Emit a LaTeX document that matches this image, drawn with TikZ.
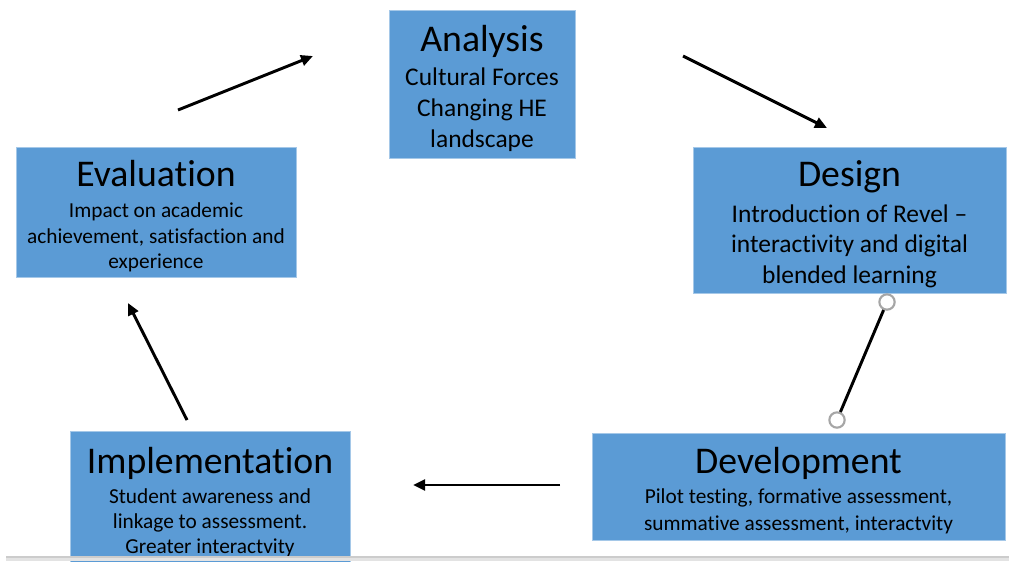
\documentclass[tikz,border=0pt]{standalone}
\usepackage{fontspec}
\setmainfont{Carlito}[Ligatures=NoCommon]
\usepackage{xcolor}
\usetikzlibrary{arrows.meta}
\definecolor{boxblue}{HTML}{5B9BD5}
\newcommand{\ttl}[1]{{\fontsize{28.3}{30}\selectfont\rule{0pt}{26pt}#1}}

\begin{document}
\begin{tikzpicture}[x=0.75pt, y=-0.75pt,
    main/.style = {fill=boxblue, draw=boxblue!55!white, line width=0.6pt, align=center, inner sep=0pt},
    big/.style = {font=\fontsize{19.1}{23}\selectfont},
    small/.style = {font=\fontsize{16}{19}\selectfont},
    flow/.style = {-{Triangle[length=9pt, width=8pt]}, line width=2.2pt},
    grip/.style = {circle, draw=gray!70, line width=1.6pt, fill=white, inner sep=0pt, minimum size=11.5pt}]
  \useasboundingbox (0,0) rectangle (1009,561);
  \begin{scope}
    \clip (0,0) rectangle (1009,561);

    \node[main, big, minimum width=139.5pt, minimum height=111pt] (n_1) at (482,84)
      {\ttl{Analysis}\\[3pt] Cultural Forces\\ Changing HE\\ landscape};
    \node[main, big, minimum width=234.75pt, minimum height=109.5pt] (n_2) at (849.5,220)
      {\ttl{Design}\\[3.5pt] Introduction of Revel --\\ interactivity and digital\\ blended learning};
    \node[main, small, font=\fontsize{16}{20}\selectfont, minimum width=309.75pt, minimum height=80.25pt] (n_3) at (798.5,486.5)
      {\ttl{Development}\\[2.5pt] Pilot testing, formative assessment,\\ summative assessment, interactvity};
    \node[main, small, minimum width=210pt, minimum height=100.5pt] (n_4) at (210,498)
      {\ttl{Implementation}\\[3.5pt] Student awareness and\\ linkage to assessment.\\ Greater interactvity};
    \node[main, small, minimum width=210pt, minimum height=97.5pt] (n_5) at (156,212)
      {\ttl{Evaluation}\\[4.5pt] Impact on academic\\ achievement, satisfaction and\\ experience};

    \coordinate (a_1) at (178,110);  \coordinate (b_1) at (313,56);
    \coordinate (a_2) at (683,56);   \coordinate (b_2) at (827,128);
    \node[grip] (g_1) at (887,302) {};
    \node[grip] (g_2) at (837,420) {};
    \coordinate (a_3) at (560,485);  \coordinate (b_3) at (413,485);
    \coordinate (a_4) at (187,420);  \coordinate (b_4) at (128,303);

    \draw[flow] (a_1) -- (b_1);
    \draw[flow] (a_2) -- (b_2);
    \draw[line width=2.2pt] (g_1) -- (g_2);
    \draw[flow] (a_3) -- (b_3);
    \draw[flow] (a_4) -- (b_4);

    \fill[gray!22] (6,557) rectangle (1009,561);
    \draw[gray!40, line width=0.8pt] (6,557) -- (1009,557);
  \end{scope}
\end{tikzpicture}
\end{document}
